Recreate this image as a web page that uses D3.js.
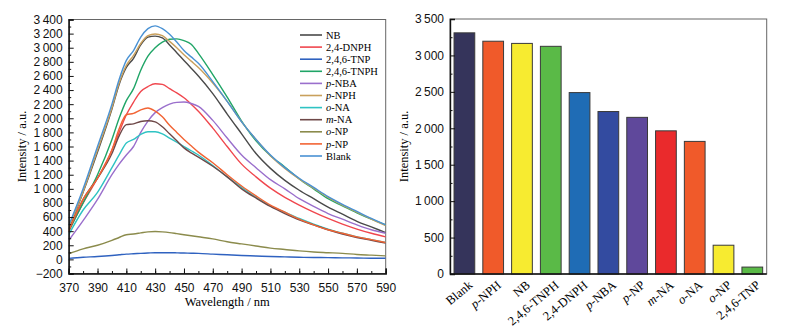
<!DOCTYPE html>
<html>
<head>
<meta charset="utf-8">
<script src="https://cdn.jsdelivr.net/npm/d3@7"></script>
<style>
  body { margin: 0; background: #fff; }
  svg { font-family: "Liberation Serif", "DejaVu Serif", serif; }
  .tick text { font-size: 12px; fill: #111; }
</style>
</head>
<body>
<svg id="chart" width="796" height="329"></svg>
<script>
// emission spectra, sampled wavelengths (nm)
const wavelengths = [370,380,390,400,405,410,415,420,425,430,435,440,445,450,455,460,470,480,490,500,510,520,530,540,550,560,570,580,590];

const nb      = [430,950,1520,2130,2480,2720,2850,3040,3150,3165,3140,3040,2930,2820,2710,2600,2350,2060,1780,1500,1290,1120,980,860,740,640,540,460,380];
const dnph24  = [400,800,1150,1550,1800,2050,2230,2380,2450,2490,2480,2420,2360,2290,2200,2100,1860,1600,1350,1170,1010,880,770,670,580,500,430,370,320];
const tnp246  = [15,30,40,55,65,75,80,85,90,95,95,95,93,90,88,85,75,65,55,48,40,35,30,27,25,22,20,17,15];
const tnph246 = [400,800,1200,1700,2000,2250,2420,2680,2880,3000,3080,3120,3125,3100,3050,2920,2620,2300,1960,1680,1470,1310,1140,1000,860,760,660,570,490];
const pNba    = [270,550,850,1200,1350,1480,1600,1800,1960,2080,2150,2200,2225,2230,2210,2170,1970,1720,1480,1300,1130,1000,860,750,650,570,490,420,370];
const pNph    = [450,960,1550,2150,2500,2750,2890,3060,3170,3195,3170,3090,3000,2900,2810,2720,2500,2240,1950,1700,1470,1290,1140,1010,880,770,670,570,480];
const oNa     = [350,700,950,1300,1480,1650,1700,1770,1810,1810,1780,1720,1660,1600,1540,1480,1330,1170,1020,880,760,670,580,500,430,370,320,280,240];
const mNa     = [400,850,1150,1500,1750,1910,1920,1955,1965,1950,1880,1780,1680,1580,1510,1450,1320,1170,1000,870,750,650,560,490,420,360,310,270,230];
const oNp     = [80,150,200,270,310,350,360,375,390,395,390,380,365,350,335,320,290,250,220,190,160,140,120,105,95,85,70,60,50];
const pNp     = [400,850,1150,1550,1850,2050,2070,2120,2145,2100,2020,1900,1800,1700,1610,1520,1370,1200,1040,900,770,670,570,490,420,370,320,280,240];
const blank   = [480,1000,1600,2200,2550,2820,2960,3150,3270,3310,3270,3190,3080,2960,2870,2780,2520,2240,1950,1700,1480,1300,1150,1020,890,780,680,580,490];

const seriesNames  = ['NB','2,4-DNPH','2,4,6-TNP','2,4,6-TNPH','p-NBA','p-NPH','o-NA','m-NA','o-NP','p-NP','Blank'];
const seriesValues = [nb, dnph24, tnp246, tnph246, pNba, pNph, oNa, mNa, oNp, pNp, blank];
const seriesColors = ['#4a4a4a','#f0474e','#2f62c0','#20a567','#9a6fcc','#c9a05c','#2ec3c3','#6e4848','#8b8b4c','#f26434','#4a92d4'];

// peak intensities for the bar panel
const barNames  = ['Blank','p-NPH','NB','2,4,6-TNPH','2,4-DNPH','p-NBA','p-NP','m-NA','o-NA','o-NP','2,4,6-TNP'];
const barValues = [3310, 3195, 3165, 3125, 2490, 2230, 2150, 1965, 1820, 395, 95];
const barColors = ['#35345b','#f05a2a','#f7eb30','#5aba47','#1f6cb5','#334ba0','#5f489b','#ea2a2c','#f05a2a','#f7eb30','#5aba47'];

const svg = d3.select('#chart');
const fmt = d3.formatLocale({decimal: '.', thousands: '\u2009', grouping: [3], currency: ['', ''], minus: '\u2212'}).format(',d');

// split "p-NBA" style names so the prefix can be italic
function addName (sel, name) {
    const m = name.match(/^([pom])(-.*)$/);
    if (m) {
        sel.append('tspan').style('font-style', 'italic').text(m[1]);
        sel.append('tspan').text(m[2]);
    } else {
        sel.text(name);
    }
}

// ---------- left panel: spectra ----------
const L = {left: 68.7, right: 385.7, top: 19.5, bottom: 273.5};
const x = d3.scaleLinear().domain([370, 590]).range([L.left, L.right]);
const y = d3.scaleLinear().domain([-200, 3400]).range([L.bottom, L.top]);

const left = svg.append('g');

left.append('rect')
    .attr('x', L.left).attr('y', L.top)
    .attr('width', L.right - L.left).attr('height', L.bottom - L.top)
    .attr('fill', 'none').attr('stroke', '#666').attr('stroke-width', 1);

svg.append('defs').append('clipPath').attr('id', 'plotClip')
    .append('rect')
        .attr('x', L.left).attr('y', L.top)
        .attr('width', L.right - L.left).attr('height', L.bottom - L.top);

const line = d3.line()
    .x((d, i) => x(wavelengths[i]))
    .y(d => y(d))
    .curve(d3.curveMonotoneX);

left.append('g')
    .attr('clip-path', 'url(#plotClip)')
    .selectAll('path')
    .data(seriesValues)
    .enter()
    .append('path')
        .attr('d', line)
        .attr('fill', 'none')
        .attr('stroke', (d, i) => seriesColors[i])
        .attr('stroke-width', 1.4);

// minor ticks first, major ticks drawn over them
left.append('g')
    .attr('transform', `translate(0,${L.bottom})`)
    .call(d3.axisBottom(x).tickValues(d3.range(370, 591, 10)).tickSize(-2.5).tickFormat(''))
    .call(g => g.select('.domain').remove())
    .call(g => g.selectAll('line').attr('stroke', '#111'));

left.append('g')
    .attr('transform', `translate(0,${L.bottom})`)
    .call(d3.axisBottom(x).tickValues(d3.range(370, 591, 20)).tickSize(-5).tickPadding(10).tickFormat(d3.format('d')))
    .call(g => g.select('.domain').attr('stroke', '#111').attr('stroke-width', 1.4))
    .call(g => g.selectAll('line').attr('stroke', '#111'));

left.append('g')
    .attr('transform', `translate(${L.left},0)`)
    .call(d3.axisLeft(y).tickValues(d3.range(-100, 3400, 200)).tickSize(-2.5).tickFormat(''))
    .call(g => g.select('.domain').remove())
    .call(g => g.selectAll('line').attr('stroke', '#111'));

left.append('g')
    .attr('transform', `translate(${L.left},0)`)
    .call(d3.axisLeft(y).tickValues(d3.range(-200, 3401, 200)).tickSize(-5).tickPadding(6).tickFormat(fmt))
    .call(g => g.select('.domain').attr('stroke', '#111').attr('stroke-width', 1.4))
    .call(g => g.selectAll('line').attr('stroke', '#111'));

left.append('text')
    .attr('x', (L.left + L.right) / 2).attr('y', 306)
    .attr('text-anchor', 'middle')
    .style('font-size', '12.5px')
    .text('Wavelength / nm');

left.append('text')
    .attr('transform', `translate(26,${(L.top + L.bottom) / 2}) rotate(-90)`)
    .attr('text-anchor', 'middle')
    .style('font-size', '12.5px')
    .text('Intensity / a.u.');

// legend
const legend = left.append('g')
    .selectAll('g')
    .data(seriesNames)
    .enter()
    .append('g')
        .attr('transform', (d, i) => `translate(300,${35 + i * 12.1})`);

legend.append('line')
    .attr('x1', 0).attr('x2', 22)
    .attr('stroke', (d, i) => seriesColors[i])
    .attr('stroke-width', 1.6);

legend.append('text')
    .attr('x', 26).attr('dy', '0.35em')
    .style('font-size', '10.5px')
    .each(function (d) { addName(d3.select(this), d); });

// ---------- right panel: peak bars ----------
const R = {left: 450, right: 766.7, top: 19, bottom: 274};
const xb = d3.scaleBand().domain(barNames).range([R.left, R.right]).paddingInner(0.28).paddingOuter(0.14);
const yb = d3.scaleLinear().domain([0, 3500]).range([R.bottom, R.top]);

const right = svg.append('g');

right.append('rect')
    .attr('x', R.left).attr('y', R.top)
    .attr('width', R.right - R.left).attr('height', R.bottom - R.top)
    .attr('fill', 'none').attr('stroke', '#666').attr('stroke-width', 1);

right.append('g')
    .selectAll('rect')
    .data(barValues)
    .enter()
    .append('rect')
        .attr('x', (d, i) => xb(barNames[i]))
        .attr('y', d => yb(d))
        .attr('width', xb.bandwidth())
        .attr('height', d => yb(0) - yb(d))
        .attr('fill', (d, i) => barColors[i])
        .attr('stroke', '#3a3a3a')
        .attr('stroke-width', 1);

right.append('g')
    .attr('transform', `translate(${R.left},0)`)
    .call(d3.axisLeft(yb).tickValues(d3.range(250, 3500, 500)).tickSize(-2.5).tickFormat(''))
    .call(g => g.select('.domain').remove())
    .call(g => g.selectAll('line').attr('stroke', '#111'));

right.append('g')
    .attr('transform', `translate(${R.left},0)`)
    .call(d3.axisLeft(yb).tickValues(d3.range(0, 3501, 500)).tickSize(-5).tickPadding(6).tickFormat(fmt))
    .call(g => g.select('.domain').attr('stroke', '#111').attr('stroke-width', 1.4))
    .call(g => g.selectAll('line').attr('stroke', '#111'));

right.append('line')
    .attr('x1', R.left).attr('x2', R.right)
    .attr('y1', R.bottom).attr('y2', R.bottom)
    .attr('stroke', '#111').attr('stroke-width', 1.4);

right.append('g')
    .selectAll('text')
    .data(barNames)
    .enter()
    .append('text')
        .attr('transform', d => `translate(${xb(d) + xb.bandwidth() / 2 + 6},${R.bottom + 9}) rotate(-40)`)
        .attr('text-anchor', 'end')
        .attr('dy', '0.35em')
        .style('font-size', '12.5px')
        .each(function (d) { addName(d3.select(this), d); });

right.append('text')
    .attr('transform', `translate(408,${(R.top + R.bottom) / 2}) rotate(-90)`)
    .attr('text-anchor', 'middle')
    .style('font-size', '12.5px')
    .text('Intensity / a.u.');
</script>
</body>
</html>
